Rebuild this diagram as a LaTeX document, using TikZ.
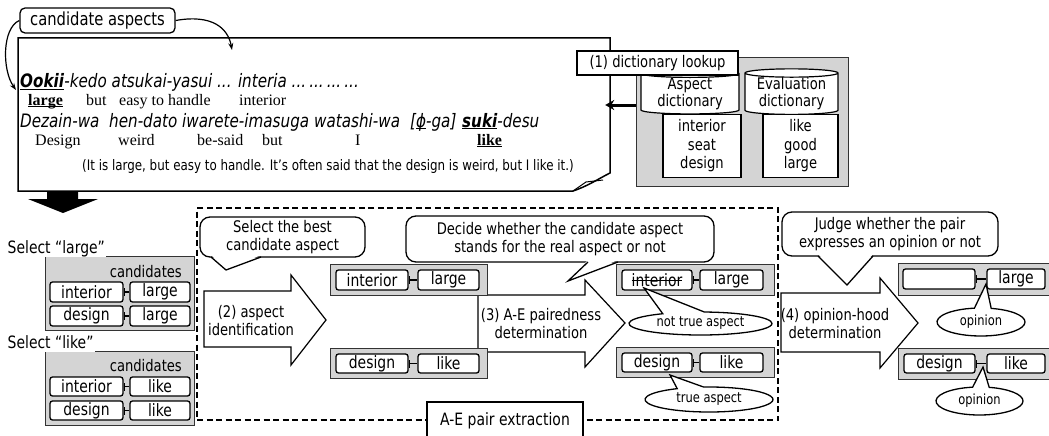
\documentclass[tikz,border=0pt]{standalone}
\usepackage{fontspec}
\setmainfont{DejaVu Sans}[FakeStretch=0.82]
\newfontfamily\glossfont{Liberation Serif}
\usetikzlibrary{arrows.meta,shapes.geometric,shapes.callouts,calc}
\newcommand\fsz[2]{\fontsize{#1}{#2}\selectfont}
% thick underline and strike-through without extra packages
\newcommand\ulw[1]{\setbox0\hbox{#1}\rlap{\raisebox{-2.2pt}{\rule{\wd0}{1.1pt}}}\box0}
\newcommand\strk[1]{\setbox0\hbox{#1}\rlap{\raisebox{0.3em}{\rule{\wd0}{1.3pt}}}\box0}

\begin{document}
\begin{tikzpicture}[x=1pt, y=-1pt,
  gbox/.style={draw=black!80, line width=0.8pt, fill=black!17, inner sep=0pt},
  wbox/.style={draw, line width=1.3pt, rounded corners=2.5pt, fill=white, inner sep=0pt, font=\fsz{17}{19}},
  bub/.style={draw, line width=1.3pt, rounded corners=10pt, fill=white, inner sep=0pt, align=center, font=\fsz{16}{17.5}},
  ell/.style={ellipse callout, draw, line width=1.3pt, fill=white, inner sep=0pt, font=\fsz{14}{16}},
  barrow/.style={draw, line width=1.2pt, fill=white, line join=miter},
  atext/.style={inner sep=0pt, align=center, font=\fsz{16}{18}},
  link/.style={line width=1.1pt, {Bar[width=8pt]}-},
  tail/.style={line width=1.3pt, line join=miter},
  itx/.style={anchor=base west, inner sep=0pt, font=\fsz{18.5}{20}\itshape},
  gl/.style={anchor=base west, inner sep=0pt, font=\glossfont\fsz{16}{18}},
  sel/.style={anchor=base west, fill=white, inner xsep=1.5pt, inner ysep=3.5pt, text depth=0pt, font=\fsz{17}{19}},
  cands/.style={anchor=base east, inner sep=0pt, font=\fsz{16}{18}},
  curv/.style={line width=1.2pt, -{Stealth[length=7pt,width=5pt]}}
]
\useasboundingbox (0,0) rectangle (1049,436);

% ---------------- input sentence (page with folded corner) ----------------
\node[inner sep=0pt, minimum width=592pt, minimum height=153pt] (doc) at (314,114.5) {};
\draw[line width=1.5pt, fill=white] (18,38) -- (610,38) -- (610,173)
  .. controls (598,179) and (588,186) .. (573,191) -- (18,191) -- cycle;
\draw[line width=1pt] (573,191) -- (586,182) -- (603,180);

\node[itx] (ookii) at (20,88) {\bfseries\ulw{Ookii}};
\node[itx] (l1rest) at (ookii.base east) {-kedo atsukai-yasui ... interia ...\,...\,...\,...};

\node[gl] (g-large) at (28,105) {\bfseries\ulw{large}};
\node[gl] (g-but1) at (86,105) {but};
\node[gl] (g-easy) at (119,105) {easy to handle};
\node[gl] (g-int) at (239,105) {interior};

\node[itx] (dez) at (20,127) {Dezain-wa};
\node[itx] (hen) at (109,127) {hen-dato};
\node[itx] (iwa) at (182,127) {iwarete-imasuga};
\node[itx] (wat) at (314,127) {watashi-wa};
\node[itx] (phi) at (410,127) {[\ulw{ϕ}-ga]};
\node[itx] (suki) at (462,127) {\textbf{\ulw{suki}}-desu};

\node[gl] (g-design) at (35,145) {Design};
\node[gl] (g-weird) at (118,145) {weird};
\node[gl] (g-said) at (197,145) {be-said};
\node[gl] (g-but2) at (262,145) {but};
\node[gl] (g-i) at (355,145) {I};
\node[gl] (g-like) at (477,145) {\bfseries\ulw{like}};

\node[anchor=base west, inner sep=0pt, font=\fsz{14.5}{16}] (trans) at (82,170)
  {(It is large, but easy to handle. It's often said that the design is weird, but I like it.)};

% ---------------- candidate aspects label ----------------
\node[draw, line width=1.3pt, rounded corners=5pt, fill=white, minimum width=155pt,
  minimum height=25pt, inner sep=0pt, font=\fsz{18}{20}] (cand) at (97.5,20.5) {candidate aspects};
\coordinate (candL) at (16,90);
\coordinate (candR) at (232,50);
\draw[curv] (cand.west) .. controls (2,28) and (2,70) .. (candL);
\draw[curv] (cand.east) .. controls (212,14) and (228,28) .. (candR);

% ---------------- dictionaries ----------------
\node[gbox, minimum width=212pt, minimum height=129pt] (dictbg) at (742,121.5) {};
\node[draw, line width=1.2pt, fill=white, minimum width=78pt, minimum height=63pt, inner sep=0pt,
  align=center, font=\fsz{16}{18.5}] (alist) at (702,146) {interior\\seat\\design};
\node[draw, line width=1.2pt, fill=white, minimum width=75pt, minimum height=63pt, inner sep=0pt,
  align=center, font=\fsz{16}{18.5}] (elist) at (800.5,146) {like\\good\\large};
\node[cylinder, shape border rotate=90, draw, line width=1.2pt, fill=white, minimum width=98pt,
  minimum height=44pt, aspect=0.12, inner sep=0pt, align=center, font=\fsz{16}{17}] (adict) at (690,94) {Aspect\\dictionary};
\node[cylinder, shape border rotate=90, draw, line width=1.2pt, fill=white, minimum width=93pt,
  minimum height=44pt, aspect=0.12, inner sep=0pt, align=center, font=\fsz{16}{17}] (edict) at (791.5,94) {Evaluation\\dictionary};
\node[draw, line width=1.2pt, fill=white, minimum width=161pt, minimum height=24pt, inner sep=0pt,
  font=\fsz{16}{18}] (lookup) at (657.5,63) {(1) dictionary lookup};
\coordinate (lk) at (0,105);
\draw[line width=3pt, -{Stealth[length=9pt,width=10pt]}] (dictbg.west |- lk) -- ($(doc.east |- lk)+(-5,0)$);

% block arrow into the lower part
\fill (47,191) -- (78,191) -- (78,199) -- (98,199) -- (63,213) -- (28,199) -- (47,199) -- cycle;

% ---------------- candidate pairs ----------------
\node[gbox, minimum width=149pt, minimum height=74pt] (cg1) at (119.5,293) {};
\node[sel] (sel1) at (6,253) {Select “large”};
\node[cands] (cn1) at (182,277) {candidates};
\node[wbox, minimum width=73pt, minimum height=20pt] (ca1) at (86.5,292) {interior};
\node[wbox, minimum width=60pt, minimum height=20pt] (ce1) at (160,292) {large};
\node[wbox, minimum width=73pt, minimum height=20pt] (ca2) at (86.5,316) {design};
\node[wbox, minimum width=60pt, minimum height=20pt] (ce2) at (160,316) {large};
\draw[link] (ca1.east) -- (ce1.west);
\draw[link] (ca2.east) -- (ce2.west);

\node[gbox, minimum width=149pt, minimum height=74pt] (cg2) at (119.5,388) {};
\node[sel] (sel2) at (6,348) {Select “like”};
\node[cands] (cn2) at (182,371) {candidates};
\node[wbox, minimum width=73pt, minimum height=19pt] (ca3) at (86.5,386.5) {interior};
\node[wbox, minimum width=60pt, minimum height=19pt] (ce3) at (160,386.5) {like};
\node[wbox, minimum width=73pt, minimum height=19pt] (ca4) at (86.5,410.5) {design};
\node[wbox, minimum width=60pt, minimum height=19pt] (ce4) at (160,410.5) {like};
\draw[link] (ca3.east) -- (ce3.west);
\draw[link] (ca4.east) -- (ce4.west);

% ---------------- A-E pair extraction ----------------
\node[draw, line width=2.2pt, dash pattern=on 6pt off 3.5pt, minimum width=581pt, minimum height=212pt,
  inner sep=0pt] (extract) at (487.5,314) {};

% (2) aspect identification
\draw[barrow] (204,291) -- (291,291) -- (291,275) -- (326,320) -- (291,365) -- (291,347) -- (204,347) -- cycle;
\node[atext] (t2) at (251,321) {(2) aspect\\identification};

% (3) A-E pairedness determination
\draw[barrow] (478,295) -- (585,295) -- (585,280) -- (625,323) -- (585,367) -- (585,352) -- (478,352) -- cycle;
\node[atext] (t3) at (541,324) {(3) A-E pairedness\\determination};

% pairs after aspect identification
\node[gbox, minimum width=157pt, minimum height=31pt] (p1g) at (408.5,279.5) {};
\node[wbox, minimum width=72pt, minimum height=20pt] (p1a) at (372,280) {interior};
\node[wbox, minimum width=61pt, minimum height=20pt] (p1e) at (448.5,280) {large};
\draw[link] (p1a.east) -- (p1e.west);
\node[gbox, minimum width=157pt, minimum height=30pt] (p2g) at (408.5,363) {};
\node[wbox, minimum width=72pt, minimum height=19pt] (p2a) at (372,363.5) {design};
\node[wbox, minimum width=61pt, minimum height=19pt] (p2e) at (448.5,363.5) {like};
\draw[link] (p2a.east) -- (p2e.west);

% pairs after pairedness determination
\node[gbox, minimum width=158pt, minimum height=31pt] (q1g) at (695,279.5) {};
\node[wbox, minimum width=70pt, minimum height=20pt] (q1a) at (657,280) {\strk{interior}};
\node[wbox, minimum width=63pt, minimum height=20pt] (q1e) at (731.5,280) {large};
\draw[link] (q1a.east) -- (q1e.west);
\node[gbox, minimum width=158pt, minimum height=30pt] (q2g) at (695,362) {};
\node[wbox, minimum width=70pt, minimum height=19pt] (q2a) at (657,362.5) {design};
\node[wbox, minimum width=63pt, minimum height=19pt] (q2e) at (731.5,362.5) {like};
\draw[link] (q2a.east) -- (q2e.west);

\coordinate (ntaP) at (644,288);
\node[ell, minimum width=143pt, minimum height=23pt, callout absolute pointer={(ntaP)},
  callout pointer arc=35] (nta) at (700.5,323.5) {not true aspect};
\coordinate (taP) at (670,375);
\node[ell, minimum width=128pt, minimum height=25pt, callout absolute pointer={(taP)},
  callout pointer arc=25] (ta) at (709,399.5) {true aspect};

% speech bubbles
\node[bub, minimum width=165pt, minimum height=40pt] (b1) at (282.5,237) {Select the best\\candidate aspect};
\coordinate (b1P) at (226,270);
\fill[white] (211,255) -- (b1P) -- (261,255) -- cycle;
\draw[tail] (211,257) -- (b1P) -- (261,257);

\node[bub, minimum width=308pt, minimum height=46pt] (b2) at (560,239) {Decide whether the candidate aspect\\stands for the real aspect or not};
\coordinate (b2P) at (568,281);
\fill[white] (588,260) -- (b2P) -- (618,260) -- cycle;
\draw[tail] (588,262) -- (b2P) -- (618,262);

\node[draw, line width=1.1pt, fill=white, minimum width=156pt, minimum height=38pt, inner sep=0pt,
  font=\fsz{17}{19}] (aepair) at (505,421) {A-E pair extraction};

% ---------------- (4) opinion-hood determination ----------------
\draw[barrow] (781,293) -- (880,293) -- (880,278) -- (918,323) -- (880,368) -- (880,352) -- (781,352) -- cycle;
\node[atext] (t4) at (835,324) {(4) opinion-hood\\determination};

\node[bub, minimum width=216pt, minimum height=44pt] (b3) at (890,234) {Judge whether the pair\\expresses an opinion or not};
\coordinate (b3P) at (847,285);
\fill[white] (818,254) -- (b3P) -- (873,254) -- cycle;
\draw[tail] (818,256) -- (b3P) -- (873,256);

\node[gbox, minimum width=157pt, minimum height=32pt] (r1g) at (976.5,279) {};
\node[wbox, minimum width=72pt, minimum height=20pt] (r1a) at (939,279) {};
\node[wbox, minimum width=58pt, minimum height=20pt] (r1e) at (1016,279) {large};
\draw[link] (r1a.east) -- (r1e.west);
\node[gbox, minimum width=157pt, minimum height=31pt] (r2g) at (976.5,363.5) {};
\node[wbox, minimum width=71pt, minimum height=19pt] (r2a) at (939.5,363.5) {design};
\node[wbox, minimum width=58pt, minimum height=19pt] (r2e) at (1016,363.5) {like};
\draw[link] (r2a.east) -- (r2e.west);

\coordinate (op1P) at (986,284);
\node[ell, minimum width=88pt, minimum height=28pt, callout absolute pointer={(op1P)},
  callout pointer arc=22] (op1) at (981,322) {opinion};
\coordinate (op2P) at (983,367);
\node[ell, minimum width=87pt, minimum height=28pt, callout absolute pointer={(op2P)},
  callout pointer arc=22] (op2) at (979.5,401) {opinion};
\end{tikzpicture}
\end{document}
